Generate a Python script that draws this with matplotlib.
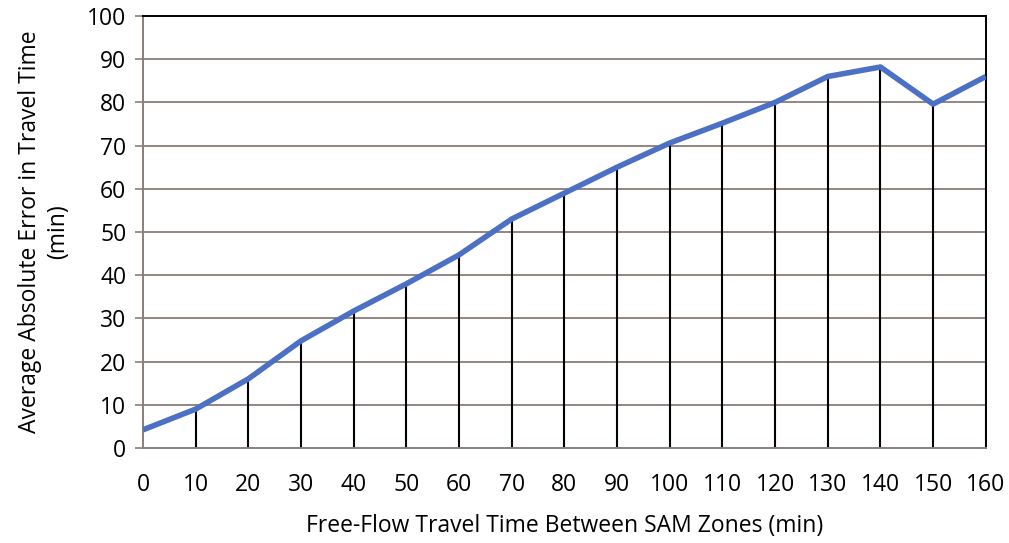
import matplotlib
matplotlib.use('Agg')
import matplotlib.pyplot as plt

# free-flow travel time (min) and average absolute error (min)
free_flow = [0, 10, 20, 30, 40, 50, 60, 70, 80, 90, 100, 110, 120, 130, 140, 150, 160]
abs_error = [4.2, 9, 16, 24.8, 31.7, 38, 44.7, 53, 59, 65, 70.6, 75.2, 80, 86, 88.2, 79.6, 86]

plt.rcParams['font.family'] = ['Open Sans', 'DejaVu Sans']
fs = 16.5

fig = plt.figure(figsize=(10.09, 5.43), dpi=100)
ax = fig.add_axes([0.1417, 0.175, 0.8353, 0.7955])

# horizontal grid lines
for y in range(10, 100, 10):
    ax.axhline(y, color='#8a7d7a', linewidth=1.3, zorder=1)

# drop lines from each point down to the axis
ax.vlines(free_flow[1:], 0, abs_error[1:], color='black', linewidth=1.5, zorder=2)

ax.plot(free_flow, abs_error, color='#4c70c4', linewidth=4, solid_capstyle='butt', zorder=3)

ax.set_xlim(0, 160)
ax.set_ylim(0, 100)
ax.set_xticks(free_flow)
ax.set_yticks(range(0, 101, 10))
ax.tick_params(axis='x', length=0, pad=18, labelsize=fs)
ax.tick_params(axis='y', length=6, width=1.2, color='#8a7d7a', pad=6, labelsize=fs)

ax.spines['left'].set_color('#8a7d7a')
ax.spines['bottom'].set_color('#8a7d7a')
ax.spines['top'].set_color('black')
ax.spines['right'].set_color('black')
for s in ax.spines.values():
    s.set_linewidth(1.4)

ax.set_xlabel('Free-Flow Travel Time Between SAM Zones (min)', fontsize=fs, labelpad=12)
ax.set_ylabel('Average Absolute Error in Travel Time\n(min)', fontsize=fs, labelpad=12,
              linespacing=1.25)

fig.savefig('out.png', dpi=100)
